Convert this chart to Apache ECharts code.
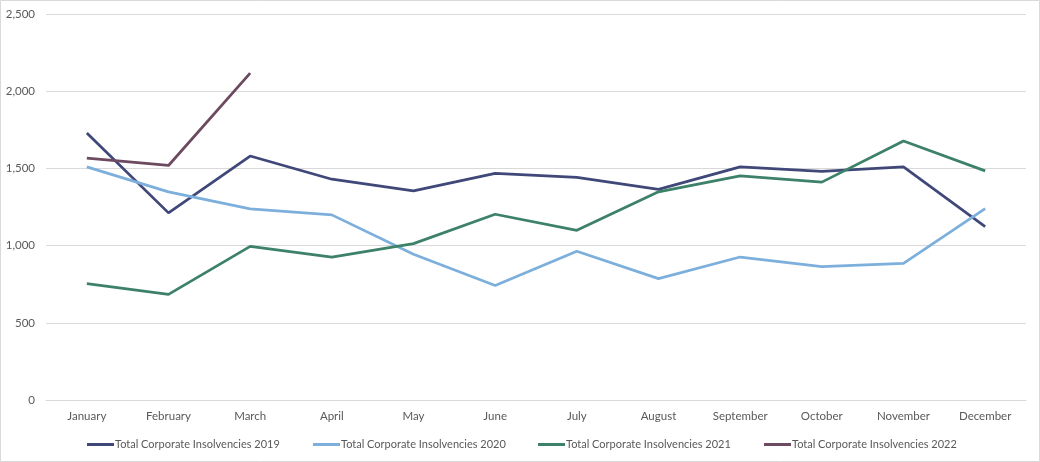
<!DOCTYPE html>
<html>
<head>
<meta charset="utf-8">
<script src="https://cdn.jsdelivr.net/npm/echarts@6/dist/echarts.min.js"></script>
<style>
html,body{margin:0;padding:0;background:#fff;}
#chart{width:1040px;height:462px;}
</style>
</head>
<body>
<div id="chart"></div>
<script>
const months = ['January','February','March','April','May','June','July','August','September','October','November','December'];
const seriesNames = ['Total Corporate Insolvencies 2019','Total Corporate Insolvencies 2020','Total Corporate Insolvencies 2021','Total Corporate Insolvencies 2022'];
const ins2019 = [1729,1212,1580,1430,1355,1468,1442,1364,1510,1481,1510,1123];
const ins2020 = [1510,1348,1238,1199,944,742,963,786,926,864,885,1240];
const ins2021 = [753,684,995,926,1013,1203,1099,1348,1452,1411,1677,1484];
const ins2022 = [1567,1519,2117];
const colors = ['#3F4878','#7DAFDC','#3D8168','#6C4A5F'];
const legendLeft = [87,313,538,764];

const chart = echarts.init(document.getElementById('chart'), null, {renderer:'canvas'});
const txt = {color:'#595959', fontSize:11.5, fontFamily:'Lato, "Open Sans", sans-serif'};
const dataSets = [ins2019, ins2020, ins2021, ins2022];
chart.setOption({
  animation:false,
  backgroundColor:'#fff',
  graphic:[{type:'rect',shape:{x:0.5,y:0.5,width:1039,height:461},style:{fill:'none',stroke:'#D9D9D9',lineWidth:1},silent:true}],
  grid:{left:46,right:14,top:14,bottom:62,containLabel:false},
  legend: seriesNames.map((n,i)=>({
    data:[n], left:legendLeft[i]-5, top:434, itemWidth:27, itemHeight:3, itemGap:0,
    icon:'rect', textStyle:Object.assign({}, txt, {fontSize:11, padding:[0,0,0,-4]})
  })),
  xAxis:{
    type:'category', data:months, boundaryGap:true,
    axisLine:{show:true,lineStyle:{color:'#D9D9D9'}},
    axisTick:{show:false},
    axisLabel:Object.assign({}, txt, {margin:10, interval:0})
  },
  yAxis:{
    type:'value', min:0, max:2500, interval:500,
    axisLine:{show:false}, axisTick:{show:false},
    splitLine:{lineStyle:{color:'#D9D9D9',width:1}},
    axisLabel:Object.assign({}, txt, {margin:11, formatter:v=>v.toLocaleString('en-US')})
  },
  series: seriesNames.map((n,i)=>({
    name:n, type:'line', data:dataSets[i], symbol:'none',
    lineStyle:{color:colors[i], width:2.75}, itemStyle:{color:colors[i]}
  }))
});
</script>
</body>
</html>
